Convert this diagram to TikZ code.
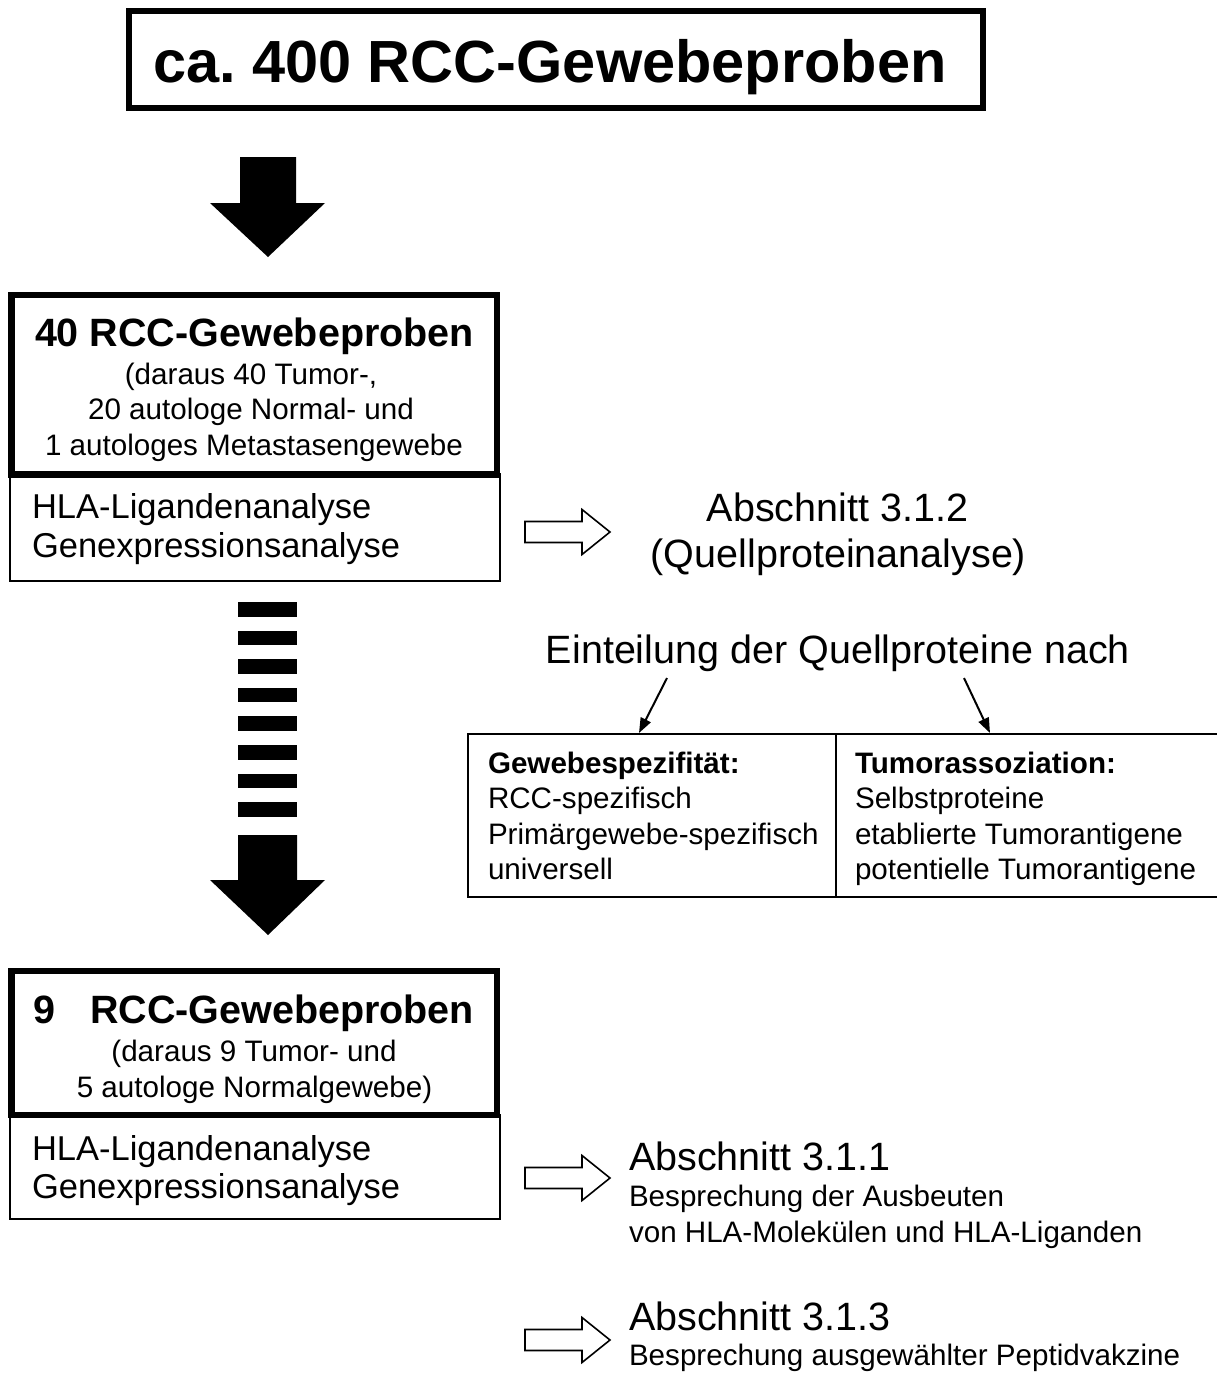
\documentclass[tikz,border=0pt]{standalone}
\usepackage{fontspec}
\setmainfont{Liberation Sans}
\usetikzlibrary{arrows.meta}
\frenchspacing
\begin{document}
\begin{tikzpicture}[x=1pt,y=-1pt,
  every node/.style={inner sep=0pt, outer sep=0pt},
  thickbox/.style={draw, line width=6.5pt},
  thinbox/.style={draw, line width=2.5pt},
  titlefont/.style={font=\fontsize{59.5}{70}\selectfont\bfseries},
  headfont/.style={font=\fontsize{39.5}{46}\selectfont\bfseries},
  subfont/.style={font=\fontsize{29.6}{35}\selectfont},
  anafont/.style={font=\fontsize{34.5}{40}\selectfont},
  bigfont/.style={font=\fontsize{39.5}{46}\selectfont},
  tabbold/.style={font=\fontsize{29.6}{35}\selectfont\bfseries},
  hollow/.style={draw, line width=1.6pt, fill=white},
  solidarrow/.style={fill=black},
  thinarrow/.style={line width=2pt, -{Triangle[length=15pt,width=11pt]}}]
\useasboundingbox (0,0) rectangle (1216,1374);

% title box
\node[draw, line width=6pt, minimum width=854pt, minimum height=97pt] (top) at (556,59.5) {};
\node[titlefont, anchor=base west] (toptext) at (153,82) {ca. 400 RCC-Gewebeproben};

% big arrow 1
\fill[solidarrow] (240,157) -- (296,157) -- (296,203) -- (325,203) -- (268,257) -- (210,203) -- (240,203) -- cycle;

% box 2
\node[thinbox, minimum width=490pt, minimum height=106.5pt] (ana1) at (255,527.75) {};
\node[thickbox, minimum width=485.5pt, minimum height=179.5pt] (box40) at (254.25,384.75) {};
\node[headfont, anchor=base] (h40) at (254.5,346) {40 RCC-Gewebeproben};
\node[subfont, anchor=base] (s40a) at (251,384) {(daraus 40 Tumor-,};
\node[subfont, anchor=base] (s40b) at (251,419) {20 autologe Normal- und};
\node[subfont, anchor=base] (s40c) at (254,455) {1 autologes Metastasengewebe};
\node[anafont, anchor=base west] (a40a) at (32,518) {HLA-Ligandenanalyse};
\node[anafont, anchor=base west] (a40b) at (32,557) {Genexpressionsanalyse};

% hollow arrows
\foreach \c in {532,1178,1340}{
  \draw[hollow] (525,\c-10.5) -- (582,\c-10.5) -- (582,\c-22.5) -- (610,\c) -- (582,\c+22.5) -- (582,\c+10.5) -- (525,\c+10.5) -- cycle;
}

% Abschnitt 3.1.2
\node[bigfont, anchor=base] (ab312) at (837.5,521) {Abschnitt 3.1.2};
\node[bigfont, anchor=base] (qpa) at (838.5,567) {(Quellproteinanalyse)};

% dashed arrow
\foreach \i in {0,...,7}{
  \fill[solidarrow] (238,602+28.6*\i) rectangle (297,616.5+28.6*\i);
}
\fill[solidarrow] (238,835) -- (297,835) -- (297,880) -- (325,880) -- (268,935) -- (210,880) -- (238,880) -- cycle;

% Einteilung
\node[bigfont, anchor=base] (eint) at (838,663) {Einteilung der Quellproteine nach};
\coordinate (la) at (667,678);
\coordinate (lb) at (639,733);
\coordinate (ra) at (964,678);
\coordinate (rb) at (990,733);
\draw[thinarrow] (la) -- (lb);
\draw[thinarrow] (ra) -- (rb);

% table
\node[draw, line width=2.5pt, minimum width=368pt, minimum height=163pt] (tabL) at (652,815.5) {};
\node[draw, line width=2.5pt, minimum width=384pt, minimum height=163pt] (tabR) at (1028,815.5) {};
\node[tabbold, anchor=base west] (tl0) at (488,773) {Gewebespezifität:};
\node[subfont, anchor=base west] (tl1) at (488,808) {RCC-spezifisch};
\node[subfont, anchor=base west] (tl2) at (488,844) {Primärgewebe-spezifisch};
\node[subfont, anchor=base west] (tl3) at (488,879) {universell};
\node[tabbold, anchor=base west] (tr0) at (855,773) {Tumorassoziation:};
\node[subfont, anchor=base west] (tr1) at (855,808) {Selbstproteine};
\node[subfont, anchor=base west] (tr2) at (855,844) {etablierte Tumorantigene};
\node[subfont, anchor=base west] (tr3) at (855,879) {potentielle Tumorantigene};

% box 3
\node[thinbox, minimum width=490pt, minimum height=104pt] (ana2) at (255,1167) {};
\node[thickbox, minimum width=485.5pt, minimum height=144pt] (box9) at (254.25,1043) {};
\node[headfont, anchor=base west] (h9n) at (34,1023) {9};
\node[headfont, anchor=base west] (h9) at (90,1023) {RCC-Gewebeproben};
\node[subfont, anchor=base] (s9a) at (254,1061) {(daraus 9 Tumor- und};
\node[subfont, anchor=base] (s9b) at (254.5,1097) {5 autologe Normalgewebe)};
\node[anafont, anchor=base west] (a9a) at (32,1160) {HLA-Ligandenanalyse};
\node[anafont, anchor=base west] (a9b) at (32,1198) {Genexpressionsanalyse};

% Abschnitt 3.1.1 / 3.1.3
\node[bigfont, anchor=base west] (ab311) at (629,1170) {Abschnitt 3.1.1};
\node[subfont, anchor=base west] (b311a) at (629,1206) {Besprechung der Ausbeuten};
\node[subfont, anchor=base west] (b311b) at (629,1242) {von HLA-Molekülen und HLA-Liganden};
\node[bigfont, anchor=base west] (ab313) at (629,1330) {Abschnitt 3.1.3};
\node[subfont, anchor=base west] (b313) at (629,1365) {Besprechung ausgewählter Peptidvakzine};
\end{tikzpicture}
\end{document}
